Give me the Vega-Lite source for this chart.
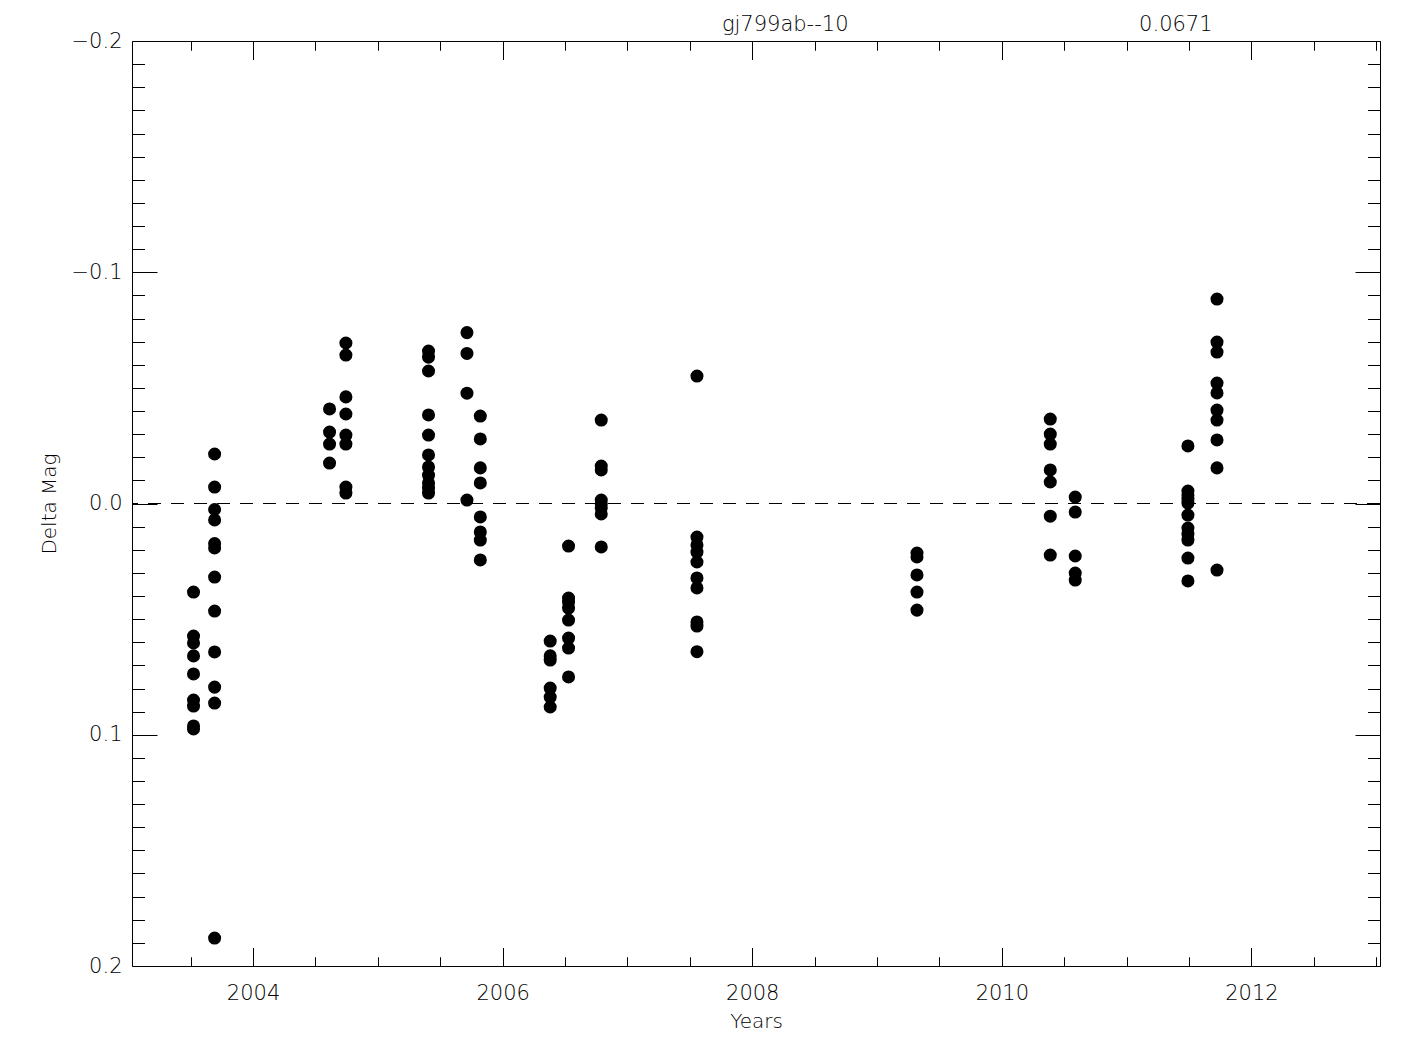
{
  "$schema": "https://vega.github.io/schema/vega-lite/v6.json",
  "width": 1248,
  "height": 925,
  "autosize": {"type": "none"},
  "padding": {"left": 132, "top": 41, "right": 45, "bottom": 84},
  "background": "white",
  "config": {
    "view": {"stroke": "black", "strokeWidth": 1},
    "axis": {
      "domain": false,
      "grid": false,
      "tickColor": "black",
      "tickWidth": 1,
      "labelColor": "black",
      "titleColor": "black",
      "labelFont": "DejaVu Sans",
      "titleFont": "DejaVu Sans",
      "labelFontSize": 21,
      "titleFontSize": 20,
      "labelFontWeight": 200,
      "titleFontWeight": 200,
      "labelFlush": false,
      "labelOverlap": false
    }
  },
  "datasets": {
    "pts": [
      {"year": 2003.523, "dmag": 0.0383}, {"year": 2003.523, "dmag": 0.0573}, {"year": 2003.523, "dmag": 0.0603}, {"year": 2003.523, "dmag": 0.0659}, {"year": 2003.523, "dmag": 0.0737}, {"year": 2003.523, "dmag": 0.0850}, {"year": 2003.523, "dmag": 0.0876}, {"year": 2003.523, "dmag": 0.0962}, {"year": 2003.523, "dmag": 0.0975},
      {"year": 2003.692, "dmag": -0.0214}, {"year": 2003.692, "dmag": -0.0071}, {"year": 2003.692, "dmag": 0.0026}, {"year": 2003.692, "dmag": 0.0071}, {"year": 2003.692, "dmag": 0.0173}, {"year": 2003.692, "dmag": 0.0192}, {"year": 2003.692, "dmag": 0.0318}, {"year": 2003.692, "dmag": 0.0465}, {"year": 2003.692, "dmag": 0.0642}, {"year": 2003.692, "dmag": 0.0794}, {"year": 2003.692, "dmag": 0.0863}, {"year": 2003.692, "dmag": 0.1879},
      {"year": 2004.613, "dmag": -0.0409}, {"year": 2004.613, "dmag": -0.0309}, {"year": 2004.613, "dmag": -0.0257}, {"year": 2004.613, "dmag": -0.0175},
      {"year": 2004.744, "dmag": -0.0694}, {"year": 2004.744, "dmag": -0.0642}, {"year": 2004.744, "dmag": -0.0461}, {"year": 2004.744, "dmag": -0.0387}, {"year": 2004.744, "dmag": -0.0296}, {"year": 2004.744, "dmag": -0.0257}, {"year": 2004.744, "dmag": -0.0071}, {"year": 2004.744, "dmag": -0.0045},
      {"year": 2005.406, "dmag": -0.0659}, {"year": 2005.406, "dmag": -0.0633}, {"year": 2005.406, "dmag": -0.0573}, {"year": 2005.406, "dmag": -0.0383}, {"year": 2005.406, "dmag": -0.0296}, {"year": 2005.406, "dmag": -0.0210}, {"year": 2005.406, "dmag": -0.0158}, {"year": 2005.406, "dmag": -0.0123}, {"year": 2005.406, "dmag": -0.0089}, {"year": 2005.406, "dmag": -0.0067}, {"year": 2005.406, "dmag": -0.0045},
      {"year": 2005.714, "dmag": -0.0739}, {"year": 2005.714, "dmag": -0.0649}, {"year": 2005.714, "dmag": -0.0477}, {"year": 2005.714, "dmag": -0.0015},
      {"year": 2005.821, "dmag": -0.0378}, {"year": 2005.821, "dmag": -0.0279}, {"year": 2005.821, "dmag": -0.0154}, {"year": 2005.821, "dmag": -0.0089}, {"year": 2005.821, "dmag": 0.0058}, {"year": 2005.821, "dmag": 0.0123}, {"year": 2005.821, "dmag": 0.0158}, {"year": 2005.821, "dmag": 0.0244},
      {"year": 2006.381, "dmag": 0.0595}, {"year": 2006.381, "dmag": 0.0659}, {"year": 2006.381, "dmag": 0.0677}, {"year": 2006.381, "dmag": 0.0798}, {"year": 2006.381, "dmag": 0.0837}, {"year": 2006.381, "dmag": 0.0880},
      {"year": 2006.528, "dmag": 0.0184}, {"year": 2006.528, "dmag": 0.0409}, {"year": 2006.528, "dmag": 0.0426}, {"year": 2006.528, "dmag": 0.0452}, {"year": 2006.528, "dmag": 0.0504}, {"year": 2006.528, "dmag": 0.0582}, {"year": 2006.528, "dmag": 0.0625}, {"year": 2006.528, "dmag": 0.0750},
      {"year": 2006.790, "dmag": -0.0361}, {"year": 2006.790, "dmag": -0.0162}, {"year": 2006.790, "dmag": -0.0145}, {"year": 2006.790, "dmag": -0.0015}, {"year": 2006.790, "dmag": 0.0002}, {"year": 2006.790, "dmag": 0.0019}, {"year": 2006.790, "dmag": 0.0045}, {"year": 2006.790, "dmag": 0.0188},
      {"year": 2007.557, "dmag": -0.0551}, {"year": 2007.557, "dmag": 0.0145}, {"year": 2007.557, "dmag": 0.0179}, {"year": 2007.557, "dmag": 0.0210}, {"year": 2007.557, "dmag": 0.0253}, {"year": 2007.557, "dmag": 0.0322}, {"year": 2007.557, "dmag": 0.0365}, {"year": 2007.557, "dmag": 0.0512}, {"year": 2007.557, "dmag": 0.0530}, {"year": 2007.557, "dmag": 0.0641},
      {"year": 2009.320, "dmag": 0.0214}, {"year": 2009.320, "dmag": 0.0231}, {"year": 2009.320, "dmag": 0.0309}, {"year": 2009.320, "dmag": 0.0383}, {"year": 2009.320, "dmag": 0.0461},
      {"year": 2010.388, "dmag": -0.0365}, {"year": 2010.388, "dmag": -0.0300}, {"year": 2010.388, "dmag": -0.0257}, {"year": 2010.388, "dmag": -0.0145}, {"year": 2010.388, "dmag": -0.0093}, {"year": 2010.388, "dmag": 0.0055}, {"year": 2010.388, "dmag": 0.0223},
      {"year": 2010.588, "dmag": -0.0028}, {"year": 2010.588, "dmag": 0.0037}, {"year": 2010.588, "dmag": 0.0227}, {"year": 2010.588, "dmag": 0.0301}, {"year": 2010.588, "dmag": 0.0331},
      {"year": 2011.491, "dmag": -0.0249}, {"year": 2011.491, "dmag": -0.0054}, {"year": 2011.491, "dmag": -0.0037}, {"year": 2011.491, "dmag": -0.0019}, {"year": 2011.491, "dmag": -0.0002}, {"year": 2011.491, "dmag": 0.0050}, {"year": 2011.491, "dmag": 0.0106}, {"year": 2011.491, "dmag": 0.0132}, {"year": 2011.491, "dmag": 0.0158}, {"year": 2011.491, "dmag": 0.0236}, {"year": 2011.491, "dmag": 0.0335},
      {"year": 2011.724, "dmag": -0.0884}, {"year": 2011.724, "dmag": -0.0698}, {"year": 2011.724, "dmag": -0.0655}, {"year": 2011.724, "dmag": -0.0521}, {"year": 2011.724, "dmag": -0.0478}, {"year": 2011.724, "dmag": -0.0404}, {"year": 2011.724, "dmag": -0.0361}, {"year": 2011.724, "dmag": -0.0275}, {"year": 2011.724, "dmag": -0.0154}, {"year": 2011.724, "dmag": 0.0288}
    ],
    "zero": [{"dmag": 0}],
    "notes": [
      {"label": "gj799ab--10", "year": 2008.264},
      {"label": "0.0671", "year": 2011.394}
    ]
  },
  "layer": [
    {
      "data": {"name": "pts"},
      "mark": {"type": "circle", "size": 170, "color": "black", "opacity": 1},
      "encoding": {
        "x": {
          "field": "year", "type": "quantitative",
          "scale": {"domain": [2003.03, 2013.03], "nice": false, "zero": false},
          "axis": {
            "orient": "bottom", "values": [2004, 2006, 2008, 2010, 2012], "format": "d",
            "ticks": false, "labelPadding": 33, "labelBaseline": "alphabetic",
            "title": "Years", "titleY": 61, "titleBaseline": "alphabetic"
          }
        },
        "y": {
          "field": "dmag", "type": "quantitative",
          "scale": {"domain": [-0.2, 0.2], "nice": false, "zero": false, "reverse": true},
          "axis": {
            "orient": "left", "values": [-0.2, -0.1, 0, 0.1, 0.2], "format": ".1f",
            "ticks": false, "labelPadding": 10,
            "title": "Delta Mag", "titleAngle": 270, "titleX": -77, "titleY": 462.5,
            "titleBaseline": "alphabetic", "titleAlign": "center"
          }
        }
      }
    },
    {
      "data": {"name": "zero"},
      "mark": {"type": "rule", "color": "black", "strokeWidth": 1, "strokeDash": [13, 10]},
      "encoding": {
        "y": {"field": "dmag", "type": "quantitative", "axis": null}
      }
    },
    {
      "data": {"name": "pts"},
      "mark": {"type": "point", "opacity": 0},
      "encoding": {
        "x": {
          "field": "year", "type": "quantitative",
          "axis": {"orient": "bottom", "values": [2004, 2006, 2008, 2010, 2012], "labels": false, "tickSize": -18.5, "title": null}
        },
        "y": {
          "field": "dmag", "type": "quantitative",
          "axis": {"orient": "left", "values": [-0.2, -0.1, 0, 0.1, 0.2], "labels": false, "tickSize": -25, "title": null}
        }
      }
    },
    {
      "data": {"name": "pts"},
      "mark": {"type": "point", "opacity": 0},
      "encoding": {
        "x": {
          "field": "year", "type": "quantitative",
          "axis": {"orient": "bottom", "values": [2003.5, 2004.5, 2005, 2005.5, 2006.5, 2007, 2007.5, 2008.5, 2009, 2009.5, 2010.5, 2011, 2011.5, 2012.5, 2013], "labels": false, "tickSize": -9.25, "title": null}
        },
        "y": {
          "field": "dmag", "type": "quantitative",
          "axis": {"orient": "left", "values": [-0.19, -0.18, -0.17, -0.16, -0.15, -0.14, -0.13, -0.12, -0.11, -0.09, -0.08, -0.07, -0.06, -0.05, -0.04, -0.03, -0.02, -0.01, 0.01, 0.02, 0.03, 0.04, 0.05, 0.06, 0.07, 0.08, 0.09, 0.11, 0.12, 0.13, 0.14, 0.15, 0.16, 0.17, 0.18, 0.19], "labels": false, "tickSize": -12.5, "title": null}
        }
      }
    },
    {
      "data": {"name": "pts"},
      "mark": {"type": "point", "opacity": 0},
      "encoding": {
        "x": {
          "field": "year", "type": "quantitative",
          "axis": {"orient": "top", "values": [2004, 2006, 2008, 2010, 2012], "labels": false, "tickSize": -18.5, "title": null}
        },
        "y": {
          "field": "dmag", "type": "quantitative",
          "axis": {"orient": "right", "values": [-0.2, -0.1, 0, 0.1, 0.2], "labels": false, "tickSize": -25, "title": null}
        }
      }
    },
    {
      "data": {"name": "pts"},
      "mark": {"type": "point", "opacity": 0},
      "encoding": {
        "x": {
          "field": "year", "type": "quantitative",
          "axis": {"orient": "top", "values": [2003.5, 2004.5, 2005, 2005.5, 2006.5, 2007, 2007.5, 2008.5, 2009, 2009.5, 2010.5, 2011, 2011.5, 2012.5, 2013], "labels": false, "tickSize": -9.25, "title": null}
        },
        "y": {
          "field": "dmag", "type": "quantitative",
          "axis": {"orient": "right", "values": [-0.19, -0.18, -0.17, -0.16, -0.15, -0.14, -0.13, -0.12, -0.11, -0.09, -0.08, -0.07, -0.06, -0.05, -0.04, -0.03, -0.02, -0.01, 0.01, 0.02, 0.03, 0.04, 0.05, 0.06, 0.07, 0.08, 0.09, 0.11, 0.12, 0.13, 0.14, 0.15, 0.16, 0.17, 0.18, 0.19], "labels": false, "tickSize": -12.5, "title": null}
        }
      }
    },
    {
      "data": {"name": "notes"},
      "mark": {"type": "text", "baseline": "alphabetic", "align": "center", "dy": -10, "font": "DejaVu Sans", "fontSize": 21, "fontWeight": 200, "color": "black"},
      "encoding": {
        "x": {"field": "year", "type": "quantitative", "axis": null},
        "y": {"datum": -0.2, "type": "quantitative", "axis": null},
        "text": {"field": "label"}
      }
    }
  ],
  "resolve": {"axis": {"x": "independent", "y": "independent"}}
}
